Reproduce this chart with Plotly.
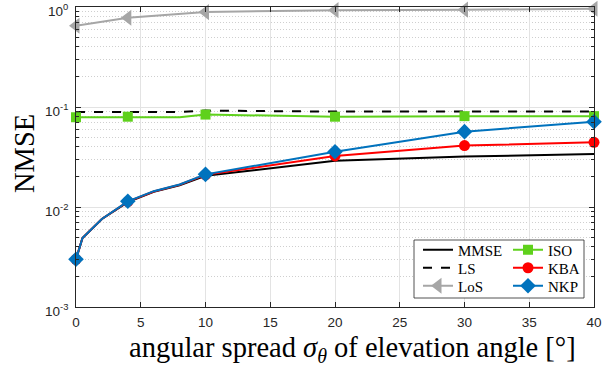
import math
import plotly.graph_objects as go

# ---- data ----
x_dense = [0, 0.5, 2, 4, 6, 8, 10, 20, 30, 40]
x_mark = [0, 4, 10, 20, 30, 40]

mmse = [3.0e-3, 4.9e-3, 7.6e-3, 0.0112, 0.0142, 0.0165, 0.0205, 0.0290, 0.0319, 0.0338]
ls = [0.089, 0.089, 0.089, 0.089, 0.089, 0.089, 0.092, 0.090, 0.090, 0.090]
los = [0.65, 0.78, 0.89, 0.93, 0.94, 0.96]  # sampled at x_mark
iso = [0.079, 0.079, 0.080, 0.080, 0.080, 0.079, 0.084, 0.080, 0.081, 0.081]
kba = [3.0e-3, 4.9e-3, 7.6e-3, 0.0113, 0.0143, 0.0167, 0.0210, 0.0324, 0.0411, 0.0443]
nkp = [3.0e-3, 4.9e-3, 7.6e-3, 0.0114, 0.0144, 0.0168, 0.0212, 0.0357, 0.0567, 0.0713]

y_tickvals = [1e-3, 1e-2, 1e-1, 1e0]
y_ticktext = ["10<sup>-3</sup>", "10<sup>-2</sup>", "10<sup>-1</sup>", "10<sup>0</sup>"]
x_tickvals = [0, 5, 10, 15, 20, 25, 30, 35, 40]

x_title = "angular spread <i>σ</i><sub><i>θ</i></sub> of elevation angle [°]"
y_title = "NMSE"

BLACK = "#000000"
GRAY = "#a6a6a6"
GREEN = "#5fd11c"
RED = "#ff0000"
BLUE = "#0072bd"
AX = "#262626"
SERIF = "Liberation Serif, Times New Roman, serif"
SANS = "Liberation Sans, Arial, sans-serif"


def at_marks(vals):
    return [vals[x_dense.index(v)] for v in x_mark]


L, R, T, B = 76, 22, 7, 60
W, H = 616, 367
pw = W - L - R
ph = H - T - B


def px2paper_x(px):
    return (px - L) / pw


def px2paper_y(py):
    return (H - B - py) / ph


fig = go.Figure()

# name, x, y, color, dash, symbol, size, (legend text-left px, row centre px)
series = [
    ("MMSE", x_dense, mmse, BLACK, "solid", None, 0, (418, 250)),
    ("LS", x_dense, ls, BLACK, "dash", None, 0, (418, 268)),
    ("LoS", x_mark, los, GRAY, "solid", "triangle-left", 14, (418, 286)),
    ("ISO", x_dense, iso, GREEN, "solid", "square", 10, (508, 250)),
    ("KBA", x_dense, kba, RED, "solid", "circle", 11, (508, 268)),
    ("NKP", x_dense, nkp, BLUE, "solid", "diamond", 12, (508, 286)),
]

for name, xs, ys, col, dash, sym, size, _ in series:
    fig.add_trace(go.Scatter(
        x=xs, y=ys, mode="lines", showlegend=False,
        line=dict(color=col, width=2, dash=dash), cliponaxis=False,
    ))
    if sym is not None:
        if xs is x_dense:
            mx, my = x_mark, at_marks(ys)
        else:
            mx, my = xs, ys
        fig.add_trace(go.Scatter(
            x=mx, y=my, mode="markers", showlegend=False, cliponaxis=False,
            marker=dict(symbol=sym, size=size, color=col, line=dict(width=0)),
        ))

legend_font = dict(family=SERIF, size=15, color="#000000")
legend_layout = {}
for i, (name, xs, ys, col, dash, sym, size, pos) in enumerate(series):
    key = "legend" if i == 0 else f"legend{i + 1}"
    mode = "lines" if sym is None else "lines+markers"
    kw = dict(symbol=sym, size=size, color=col, line=dict(width=0)) if sym else None
    fig.add_trace(go.Scatter(
        x=[None], y=[None], mode=mode, name=name, legend=key,
        line=dict(color=col, width=2, dash=dash), marker=kw,
    ))
    legend_layout[key] = dict(
        x=px2paper_x(pos[0]), y=px2paper_y(pos[1]), xanchor="left", yanchor="middle",
        bgcolor="rgba(0,0,0,0)", borderwidth=0, font=legend_font, itemwidth=30,
    )

fig.add_shape(type="rect", xref="paper", yref="paper",
              x0=px2paper_x(414), x1=px2paper_x(584),
              y0=px2paper_y(298), y1=px2paper_y(240),
              line=dict(color=AX, width=0.8), fillcolor="white", layer="above")

# axis titles as annotations for exact placement
fig.add_annotation(text=x_title, xref="paper", yref="paper",
                   x=px2paper_x(352), y=px2paper_y(349), xanchor="center", yanchor="middle",
                   showarrow=False, font=dict(family=SERIF, size=28.5, color="#000000"))
fig.add_annotation(text=y_title, xref="paper", yref="paper", textangle=-90,
                   x=px2paper_x(24), y=px2paper_y(154), xanchor="center", yanchor="middle",
                   showarrow=False, font=dict(family=SERIF, size=28.5, color="#000000"))

# y tick labels (placed on the y axis scale)
for v, t in zip(y_tickvals, y_ticktext):
    fig.add_annotation(text=t, xref="paper", yref="y", x=px2paper_x(70), y=math.log10(v),
                       xanchor="right", yanchor="middle", yshift=-3, showarrow=False,
                       font=dict(family=SANS, size=13.5, color=AX))

fig.update_layout(
    width=W, height=H,
    margin=dict(l=L, r=R, t=T, b=B, autoexpand=False),
    paper_bgcolor="white", plot_bgcolor="white",
    showlegend=True,
    **legend_layout,
    xaxis=dict(
        range=[0, 40], tickvals=x_tickvals, ticks="inside", ticklen=5, tickcolor=AX,
        showline=True, linecolor=AX, linewidth=1, mirror="ticks",
        showgrid=True, gridcolor="#e3e3e3", gridwidth=1, zeroline=False,
        tickfont=dict(family=SANS, size=13.5, color=AX),
        ticklabeloverflow="allow", automargin=False, ticklabelstandoff=3,
    ),
    yaxis=dict(
        type="log", range=[-3, 0], tickvals=y_tickvals, showticklabels=False,
        ticks="inside", ticklen=5, tickcolor=AX,
        showline=True, linecolor=AX, linewidth=1, mirror="ticks",
        showgrid=True, gridcolor="#e3e3e3", gridwidth=1, zeroline=False,
        automargin=False,
        minor=dict(dtick="D1", ticks="inside", ticklen=3, tickcolor=AX,
                   showgrid=True, gridcolor="#cfcfcf", griddash="1px,2px", gridwidth=1),
    ),
)

fig.write_html("out.html")
